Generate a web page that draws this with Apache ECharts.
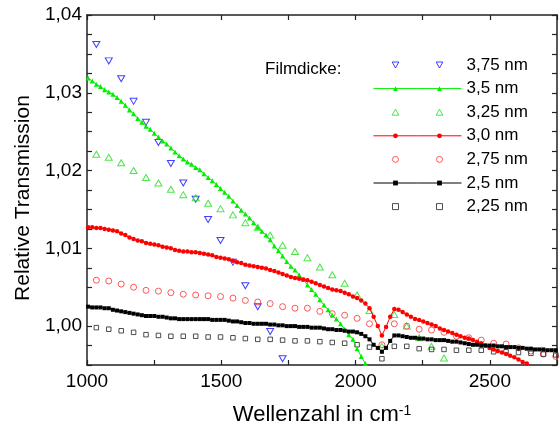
<!DOCTYPE html>
<html>
<head>
<meta charset="utf-8">
<script src="https://cdn.jsdelivr.net/npm/echarts@6/dist/echarts.min.js"></script>
<style>
html,body{margin:0;padding:0;background:#fff;}
#chart{width:560px;height:434px;}
</style>
</head>
<body>
<div id="chart"></div>
<script>
// ---- data ----
const seriesNames = ['3,75 nm','3,5 nm','3,25 nm','3,0 nm','2,75 nm','2,5 nm','2,25 nm'];
const legendTitle = 'Filmdicke:';

// dense wavenumber grid (cm-1) of the line series
const wavenumbers = [1004.0,1019.4,1034.8,1050.2,1065.6,1081.1,1096.5,1111.9,1127.3,1142.7,
1158.1,1173.5,1188.9,1204.3,1219.7,1235.2,1250.6,1266.0,1281.4,1296.8,
1312.2,1327.6,1343.0,1358.4,1373.8,1389.3,1404.7,1420.1,1435.5,1450.9,
1466.3,1481.7,1497.1,1512.5,1527.9,1543.4,1558.8,1574.2,1589.6,1605.0,
1620.4,1635.8,1651.2,1666.6,1682.0,1697.5,1712.9,1728.3,1743.7,1759.1,
1774.5,1789.9,1805.3,1820.7,1836.1,1851.6,1867.0,1882.4,1897.8,1913.2,
1928.6,1944.0,1959.4,1974.8,1990.2,2005.7,2021.1,2036.5,2051.9,2067.3,
2082.7,2098.1,2113.5,2128.9,2144.3,2159.8,2175.2,2190.6,2206.0,2221.4,
2236.8,2252.2,2267.6,2283.0,2298.4,2313.9,2329.3,2344.7,2360.1,2375.5,
2390.9,2406.3,2421.7,2437.1,2452.5,2468.0,2483.4,2498.8,2514.2,2529.6,
2545.0,2560.4,2575.8,2591.2,2606.6,2622.1,2637.5,2652.9,2668.3,2683.7,
2699.1,2714.5,2729.9,2745.3];

// sparse wavenumber grid (cm-1) of the scatter series
const scatterWavenumbers = [1034.8,1081.1,1127.3,1173.5,1219.7,1266.0,1312.2,1358.4,1404.7,1450.9,
1497.1,1543.4,1589.6,1635.8,1682.0,1728.3,1774.5,1820.7,1867.0,1913.2,
1959.4,2005.7,2051.9,2098.1,2144.3,2190.6,2236.8,2283.0,2329.3,2375.5,
2421.7,2468.0,2514.2,2560.4,2606.6,2652.9,2699.1,2745.3];

const t375 = [1.0362,1.0341,1.0318,1.0289,1.0262,1.0236,1.0209,1.0184,1.0163,1.0137,
1.0110,1.0082,1.0052,1.0025,0.9993,0.9958];

const t350 = [1.0319,1.0315,1.0311,1.0308,1.0304,1.0301,1.0298,1.0294,1.0289,1.0284,
1.0278,1.0273,1.0267,1.0262,1.0257,1.0253,1.0248,1.0243,1.0238,1.0234,
1.0229,1.0224,1.0219,1.0215,1.0211,1.0208,1.0204,1.0201,1.0196,1.0191,
1.0187,1.0182,1.0177,1.0172,1.0167,1.0161,1.0155,1.0149,1.0144,1.0139,
1.0133,1.0127,1.0122,1.0117,1.0111,1.0103,1.0097,1.0090,1.0083,1.0077,
1.0072,1.0066,1.0060,1.0053,1.0047,1.0041,1.0034,1.0027,1.0021,1.0014,
1.0009,1.0003,0.9996,0.9989,0.9983,0.9971,0.9961,0.9952,0.9943];

const t325 = [1.0221,1.0217,1.0210,1.0200,1.0191,1.0184,1.0176,1.0169,1.0165,1.0158,
1.0151,1.0143,1.0133,1.0127,1.0117,1.0104,1.0096,1.0088,1.0076,1.0066,
1.0055,1.0040,1.0020,0.9974,1.0015,1.0000,0.9985,0.9974,0.9959];

const t300 = [1.0127,1.0127,1.0126,1.0126,1.0125,1.0124,1.0123,1.0122,1.0119,1.0117,
1.0114,1.0112,1.0110,1.0109,1.0107,1.0106,1.0105,1.0104,1.0102,1.0101,
1.0100,1.0098,1.0097,1.0096,1.0096,1.0095,1.0095,1.0094,1.0093,1.0092,
1.0091,1.0089,1.0088,1.0087,1.0086,1.0084,1.0082,1.0081,1.0079,1.0078,
1.0077,1.0076,1.0075,1.0074,1.0072,1.0071,1.0069,1.0067,1.0065,1.0063,
1.0062,1.0061,1.0060,1.0059,1.0057,1.0055,1.0053,1.0051,1.0049,1.0047,
1.0046,1.0045,1.0043,1.0041,1.0038,1.0036,1.0033,1.0029,1.0023,1.0012,
1.0000,0.9988,0.9999,1.0012,1.0022,1.0021,1.0018,1.0015,1.0012,1.0009,
1.0008,1.0006,1.0004,1.0002,1.0000,0.9997,0.9995,0.9993,0.9991,0.9989,
0.9987,0.9985,0.9984,0.9982,0.9980,0.9978,0.9975,0.9972,0.9970,0.9968,
0.9966,0.9964,0.9962,0.9960,0.9957,0.9954,0.9952,0.9949,0.9947];

const t275 = [1.0059,1.0058,1.0054,1.0050,1.0046,1.0045,1.0043,1.0041,1.0040,1.0039,
1.0038,1.0036,1.0033,1.0031,1.0029,1.0025,1.0023,1.0023,1.0019,1.0016,
1.0014,1.0010,1.0003,0.9976,1.0003,1.0000,0.9996,0.9995,0.9992,0.9987,
0.9985,0.9982,0.9978,0.9977,0.9972,0.9968,0.9964,0.9961];

const t250 = [1.0025,1.0024,1.0024,1.0024,1.0023,1.0023,1.0021,1.0020,1.0019,1.0018,
1.0017,1.0016,1.0015,1.0014,1.0013,1.0013,1.0013,1.0012,1.0012,1.0011,
1.0010,1.0010,1.0009,1.0009,1.0009,1.0009,1.0009,1.0009,1.0009,1.0009,
1.0008,1.0008,1.0008,1.0008,1.0007,1.0006,1.0006,1.0005,1.0004,1.0004,
1.0003,1.0003,1.0003,1.0003,1.0002,1.0002,1.0001,1.0001,1.0000,1.0000,
1.0000,0.9999,0.9999,0.9999,0.9998,0.9998,0.9998,0.9997,0.9996,0.9996,
0.9995,0.9995,0.9994,0.9993,0.9993,0.9992,0.9990,0.9987,0.9983,0.9976,
0.9972,0.9967,0.9972,0.9981,0.9988,0.9988,0.9987,0.9986,0.9985,0.9985,
0.9984,0.9984,0.9983,0.9983,0.9982,0.9982,0.9982,0.9981,0.9980,0.9980,
0.9979,0.9978,0.9977,0.9976,0.9976,0.9975,0.9975,0.9975,0.9975,0.9974,
0.9974,0.9973,0.9973,0.9973,0.9972,0.9972,0.9971,0.9971,0.9970,0.9970,
0.9970,0.9969,0.9969,0.9969];

const t225 = [0.9998,0.9996,0.9994,0.9992,0.9989,0.9988,0.9987,0.9987,0.9987,0.9986,
0.9986,0.9985,0.9984,0.9983,0.9983,0.9982,0.9981,0.9981,0.9980,0.9979,
0.9978,0.9976,0.9973,0.9958,0.9974,0.9974,0.9971,0.9970,0.9970,0.9969,
0.9969,0.9969,0.9967,0.9967,0.9966,0.9965,0.9964,0.9963];

const xLabelValues = [1000,1500,2000,2500];
const yLabelValues = [1.00,1.01,1.02,1.03,1.04];

// ---- chart ----
const FONT = '"Liberation Sans", Arial, sans-serif';
function zip(xs, ys){ return ys.map((y,i)=>[xs[i], y]); }

const chart = echarts.init(document.getElementById('chart'), null, {renderer:'canvas'});

const axisLineStyle = {color:'#222', width:1.5};
const tickStyle = {inside:true, length:5, lineStyle:{color:'#222', width:1.2}};

function xFmt(v){ return xLabelValues.indexOf(Math.round(v)) >= 0 && Math.abs(v-Math.round(v))<1e-6 ? String(Math.round(v)) : ''; }
function yFmt(v){
  for (const t of yLabelValues){ if (Math.abs(v-t) < 1e-7) return t.toFixed(2).replace('.', ','); }
  return '';
}

const hollow = (c) => ({color:'rgba(255,255,255,0)', borderColor:c, borderWidth:1});
const TRI_DOWN = 'path://M0,0L10,0L5,9Z';
const TRI_UP = 'path://M5,0L10,9L0,9Z';
const SQUARE = 'path://M0,0L10,0L10,10L0,10Z';

const legendBase = {orient:'vertical', top:56.5, padding:0, itemWidth:44, itemHeight:6, itemGap:6.6,
  data:seriesNames, selectedMode:false, symbolKeepAspect:true,
  itemStyle:{borderWidth:1}, lineStyle:{width:1}};

const option = {
  animation:false,
  backgroundColor:'#fff',
  textStyle:{fontFamily:FONT},
  title:{text:legendTitle, left:265, top:61, padding:0,
    textStyle:{fontSize:17, fontWeight:'normal', color:'#000', fontFamily:FONT}},
  grid:{left:87, right:-3, top:15, bottom:69, containLabel:false},
  legend:[
    Object.assign({}, legendBase, {left:373,
      textStyle:{fontSize:17, color:'rgba(0,0,0,0)', fontFamily:FONT}}),
    Object.assign({}, legendBase, {left:417,
      textStyle:{fontSize:17, color:'#000', fontFamily:FONT}})
  ],
  xAxis:[
    {type:'value', position:'bottom', min:1000, max:2750, interval:250,
     axisLine:{lineStyle:axisLineStyle}, axisTick:tickStyle,
     splitLine:{show:false},
     axisLabel:{formatter:xFmt, fontSize:19, color:'#000', margin:7, fontFamily:FONT},
     name:'Wellenzahl in cm{sup|-1}', nameLocation:'middle', nameGap:39,
     nameTextStyle:{fontSize:22, color:'#000', fontFamily:FONT,
       rich:{sup:{fontSize:14, color:'#000', fontFamily:FONT, verticalAlign:'top'}}}},
    {type:'value', position:'top', min:1000, max:2750, interval:250,
     axisLine:{lineStyle:axisLineStyle}, axisTick:tickStyle,
     splitLine:{show:false}, axisLabel:{show:false}}
  ],
  yAxis:[
    {type:'value', position:'left', min:0.995, max:1.04, interval:0.0025,
     axisLine:{show:true, lineStyle:axisLineStyle}, axisTick:tickStyle,
     splitLine:{show:false},
     axisLabel:{formatter:yFmt, fontSize:19, color:'#000', margin:5, fontFamily:FONT},
     name:'Relative Transmission', nameLocation:'middle', nameGap:52, nameRotate:90,
     nameTextStyle:{fontSize:21, color:'#000', fontFamily:FONT, padding:[0,16,0,0]}},
    {type:'value', position:'right', min:0.995, max:1.04, interval:0.0025,
     axisLine:{show:true, lineStyle:axisLineStyle}, axisTick:tickStyle,
     splitLine:{show:false}, axisLabel:{show:false}}
  ],
  series:[
    {name:seriesNames[0], type:'scatter', data:zip(scatterWavenumbers, t375),
     symbol:TRI_DOWN, symbolSize:[7,6], clip:false,
     itemStyle:hollow('#1010ff')},
    {name:seriesNames[1], type:'line', data:zip(wavenumbers, t350),
     symbol:'triangle', symbolSize:5, showSymbol:true, showAllSymbol:true, clip:true,
     lineStyle:{color:'#00ee00', width:1}, itemStyle:{color:'#00ee00'}},
    {name:seriesNames[2], type:'scatter', data:zip(scatterWavenumbers, t325),
     symbol:TRI_UP, symbolSize:[7,6], clip:false,
     itemStyle:hollow('#22dd22')},
    {name:seriesNames[3], type:'line', data:zip(wavenumbers, t300),
     symbol:'circle', symbolSize:4.5, showSymbol:true, showAllSymbol:true, clip:true,
     lineStyle:{color:'#ff0000', width:1}, itemStyle:{color:'#ff0000'}},
    {name:seriesNames[4], type:'scatter', data:zip(scatterWavenumbers, t275),
     symbol:'circle', symbolSize:6, clip:false,
     itemStyle:hollow('#ff3030')},
    {name:seriesNames[5], type:'line', data:zip(wavenumbers, t250),
     symbol:'rect', symbolSize:4, showSymbol:true, showAllSymbol:true, clip:true,
     lineStyle:{color:'#000', width:1}, itemStyle:{color:'#000'}},
    {name:seriesNames[6], type:'scatter', data:zip(scatterWavenumbers, t225),
     symbol:SQUARE, symbolSize:4.5, clip:false,
     itemStyle:hollow('#222')}
  ]
};
chart.setOption(option);
</script>
</body>
</html>
